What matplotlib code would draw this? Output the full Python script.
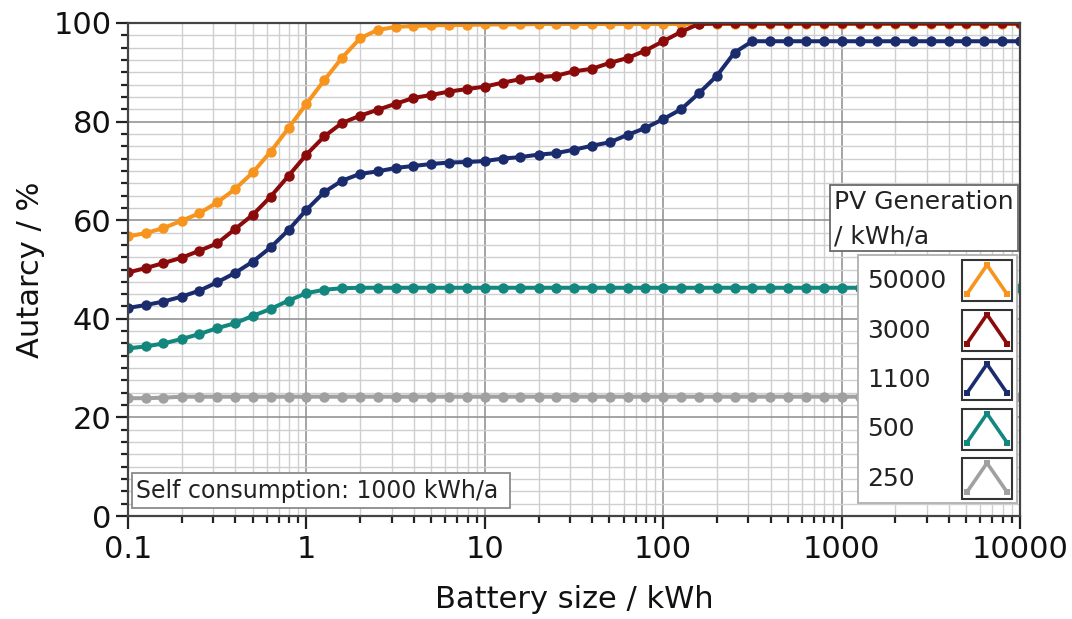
import numpy as np
import matplotlib
matplotlib.use("Agg")
import matplotlib.pyplot as plt
from matplotlib.patches import Rectangle
from matplotlib.ticker import FixedLocator, FixedFormatter, MultipleLocator

plt.rcParams['font.family'] = ['DejaVu Sans']

# Battery sizes in kWh (log spaced, 10 points per decade)
battery_kwh = [0.1, 0.126, 0.158, 0.2, 0.251, 0.316, 0.398, 0.501, 0.631, 0.794,
               1, 1.26, 1.58, 2.0, 2.51, 3.16, 3.98, 5.01, 6.31, 7.94,
               10, 12.6, 15.8, 20, 25.1, 31.6, 39.8, 50.1, 63.1, 79.4,
               100, 126, 158, 200, 251, 316, 398, 501, 631, 794,
               1000, 1260, 1580, 2000, 2510, 3160, 3980, 5010, 6310, 7940,
               10000]

# Autarcy in % for each PV generation (kWh/a)
pv_50000 = [56.7, 57.4, 58.4, 59.9, 61.4, 63.6, 66.3, 69.7, 73.9, 78.7,
            83.6, 88.4, 92.9, 96.9, 98.6, 99.2, 99.4, 99.5, 99.6, 99.6,
            99.7, 99.7, 99.7, 99.8, 99.8, 99.8, 99.8, 99.8, 99.8, 99.8,
            99.8, 99.8, 99.8, 99.8, 99.8, 99.8, 99.8, 99.8, 99.8, 99.8,
            99.8, 99.8, 99.8, 99.8, 99.8, 99.8, 99.8, 99.8, 99.8, 99.8,
            99.8]
pv_3000 = [49.4, 50.3, 51.3, 52.4, 53.8, 55.3, 58.2, 61.1, 64.8, 69.0,
           73.3, 77.0, 79.7, 81.2, 82.4, 83.6, 84.8, 85.4, 86.1, 86.6,
           87.1, 87.9, 88.6, 89.0, 89.3, 90.2, 90.7, 91.9, 92.9, 94.4,
           96.3, 98.2, 99.8, 99.9, 99.9, 99.9, 99.9, 99.9, 99.9, 99.9,
           99.9, 99.9, 99.9, 99.9, 99.9, 99.9, 99.9, 99.9, 99.9, 99.9,
           99.9]
pv_1100 = [42.2, 42.8, 43.5, 44.5, 45.7, 47.4, 49.3, 51.6, 54.5, 58.0,
           62.1, 65.7, 68.0, 69.4, 69.9, 70.6, 71.0, 71.4, 71.7, 71.8,
           72.0, 72.5, 72.8, 73.3, 73.6, 74.3, 75.1, 75.8, 77.3, 78.7,
           80.5, 82.5, 85.7, 89.3, 94.0, 96.3, 96.3, 96.3, 96.3, 96.3,
           96.3, 96.3, 96.3, 96.3, 96.3, 96.3, 96.3, 96.3, 96.3, 96.3,
           96.3]
pv_500 = [34.0, 34.4, 35.0, 35.9, 36.9, 38.1, 39.1, 40.6, 42.0, 43.7,
          45.2, 45.9, 46.2, 46.3, 46.3, 46.3, 46.3, 46.3, 46.3, 46.3,
          46.3, 46.3, 46.3, 46.3, 46.3, 46.3, 46.3, 46.3, 46.3, 46.3,
          46.3, 46.3, 46.3, 46.3, 46.3, 46.3, 46.3, 46.3, 46.3, 46.3,
          46.3, 46.3, 46.3, 46.3, 46.3, 46.3, 46.3, 46.3, 46.3, 46.3,
          46.3]
pv_250 = [23.9, 23.9, 24.0, 24.2, 24.2, 24.2, 24.2, 24.2, 24.2, 24.2,
          24.2, 24.2, 24.2, 24.2, 24.2, 24.2, 24.2, 24.2, 24.2, 24.2,
          24.2, 24.2, 24.2, 24.2, 24.2, 24.2, 24.2, 24.2, 24.2, 24.2,
          24.2, 24.2, 24.2, 24.2, 24.2, 24.2, 24.2, 24.2, 24.2, 24.2,
          24.2, 24.2, 24.2, 24.2, 24.2, 24.2, 24.2, 24.2, 24.2, 24.2,
          24.2]

series_labels = ['50000', '3000', '1100', '500', '250']
series_values = [pv_50000, pv_3000, pv_1100, pv_500, pv_250]
series_colors = ['#f7941e', '#8b0a0a', '#1a2c6e', '#13877e', '#a0a0a0']

x_ticks = [0.1, 1, 10, 100, 1000, 10000]
x_tick_labels = ['0.1', '1', '10', '100', '1000', '10000']

W, H = 1072, 619
fig = plt.figure(figsize=(W / 100, H / 100), dpi=100)
ax = fig.add_axes([128 / W, 1 - 516 / H, (1020 - 128) / W, (516 - 23) / H])

# grid first
ax.set_xscale('log')
ax.set_xlim(0.1, 10000)
ax.set_ylim(0, 100)
ax.yaxis.set_major_locator(MultipleLocator(20))
ax.yaxis.set_minor_locator(MultipleLocator(2.5))
ax.xaxis.set_major_locator(FixedLocator(x_ticks))
ax.xaxis.set_major_formatter(FixedFormatter(x_tick_labels))
ax.grid(which='major', color='#8c8c8c', linewidth=1.1)
ax.grid(which='minor', color='#cfcfcf', linewidth=1.0)
ax.set_axisbelow(True)

for vals, col in zip(series_values, series_colors):
    ax.plot(battery_kwh, vals, color=col, linewidth=2.9, marker='o',
            markersize=7.5, markeredgewidth=0)

for s in ax.spines.values():
    s.set_color('#444444')
    s.set_linewidth(1.6)
ax.tick_params(which='major', direction='out', length=9, width=1.6,
               color='#222222', labelsize=22, labelcolor='#111111', pad=5)
ax.tick_params(which='minor', direction='out', length=5, width=1.6,
               color='#222222')
ax.tick_params(axis='y', which='major', pad=3)

ax.set_xlabel('Battery size / kWh', fontsize=22, color='#111111', labelpad=15)
ax.set_ylabel('Autarcy / %', fontsize=22, color='#111111', labelpad=6)

# overlay in pixel coordinates for the annotation box and the legend
ov = fig.add_axes([0, 0, 1, 1])
ov.set_xlim(0, W)
ov.set_ylim(H, 0)
ov.axis('off')

# self consumption note
ov.add_patch(Rectangle((132, 473), 378, 35, facecolor='white',
                       edgecolor='#8a8a8a', linewidth=1.3))
ov.text(136, 491, 'Self consumption: 1000 kWh/a', fontsize=17,
        color='#222222', va='center', ha='left')

# legend title box
ov.add_patch(Rectangle((830, 185), 188, 66, facecolor='white',
                       edgecolor='#6a6a6a', linewidth=1.3))
ov.text(834, 202, 'PV Generation', fontsize=18, color='#222222',
        va='center', ha='left')
ov.text(834, 236, '/ kWh/a', fontsize=18, color='#222222',
        va='center', ha='left')

# legend entries box
ov.add_patch(Rectangle((858, 255), 159, 248, facecolor='white',
                       edgecolor='#b0b0b0', linewidth=1.3))
entry_y = [280, 329.5, 379, 428.5, 478]
for lab, col, yc in zip(series_labels, series_colors, entry_y):
    ov.text(867, yc + 1, lab, fontsize=18, color='#222222',
            va='center', ha='left')
    ov.add_patch(Rectangle((962, yc - 20), 50, 41, facecolor='white',
                           edgecolor='#333333', linewidth=1.5))
    ov.plot([967, 987, 1007], [yc + 14, yc - 15, yc + 14], color=col,
            linewidth=2.6, marker='s', markersize=4.5, markeredgewidth=0)

fig.savefig('out.png', dpi=100)
